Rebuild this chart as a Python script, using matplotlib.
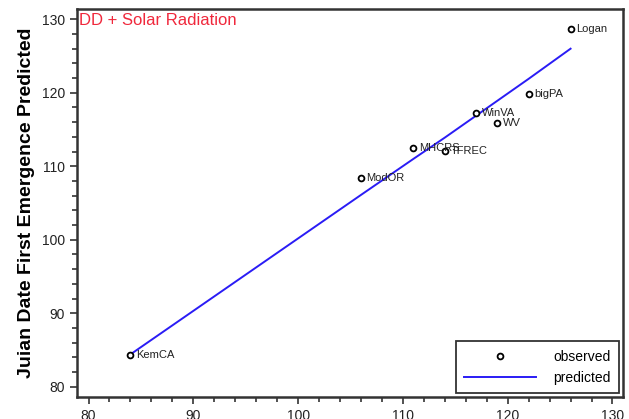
"""DD + Solar Radiation: observed vs predicted first emergence date."""
import matplotlib
matplotlib.use("Agg")
import matplotlib.pyplot as plt
from matplotlib.ticker import MultipleLocator

plt.rcParams["font.family"] = ["Liberation Sans", "DejaVu Sans"]

# site data
sites = ["KemCA", "ModOR", "MHCRS", "TFREC", "WinVA", "WV", "bigPA", "Logan"]
observed_x = [84, 106, 111, 114, 117, 119, 122, 126]
observed_y = [84.3, 108.4, 112.5, 112.1, 117.2, 115.9, 119.8, 128.7]
predicted_y = [84.4, 106.1, 111.0, 113.9, 116.9, 118.9, 121.9, 126.0]

LINE = "#2a1cf5"
FRAME = "#333333"

fig = plt.figure(figsize=(6.29, 4.19), dpi=100, facecolor="white")
ax = fig.add_axes([0.1224, 0.0525, 0.868, 0.926])

ax.plot(observed_x, predicted_y, color=LINE, lw=1.4, label="predicted", zorder=2)
ax.plot(observed_x, observed_y, ls="none", marker="o", ms=4.2, mfc="white",
        mec="black", mew=1.3, label="observed", zorder=3)

for name, x, y in zip(sites, observed_x, observed_y):
    ax.annotate(name, (x, y), xytext=(4, 0), textcoords="offset points",
                ha="left", va="center", fontsize=8, color="#222222")

ax.text(0.003, 0.99, "DD + Solar Radiation", transform=ax.transAxes,
        ha="left", va="top", fontsize=12, color="#f0283c")

ax.set_xlim(78.9, 131.0)
ax.set_ylim(78.6, 131.4)
ax.xaxis.set_major_locator(MultipleLocator(10))
ax.xaxis.set_minor_locator(MultipleLocator(2))
ax.yaxis.set_major_locator(MultipleLocator(10))
ax.yaxis.set_minor_locator(MultipleLocator(2))
ax.tick_params(which="both", direction="out", color=FRAME, width=1.2,
               labelsize=10, labelcolor="#222222", top=False, right=False)
ax.tick_params(which="major", length=5)
ax.tick_params(which="minor", length=3.5)
for sp in ax.spines.values():
    sp.set_color(FRAME)
    sp.set_linewidth(1.8)

ax.set_ylabel("Juian Date First Emergence Predicted", fontsize=14,
              fontweight="bold", labelpad=5)

handles, labels = ax.get_legend_handles_labels()
leg = ax.legend(handles[::-1], labels[::-1], loc="lower right", fontsize=10,
                frameon=True, fancybox=False, edgecolor="black",
                handlelength=5.2, borderpad=0.6, labelspacing=0.5,
                handletextpad=1.2, borderaxespad=0.3)
leg.get_frame().set_linewidth(1.3)

fig.savefig("out.png", dpi=100, facecolor="white")
